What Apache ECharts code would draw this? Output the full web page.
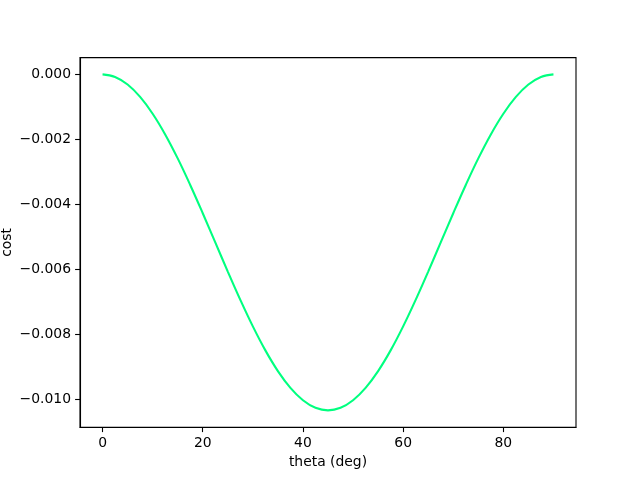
<!DOCTYPE html>
<html>
<head>
<meta charset="utf-8">
<script src="https://cdn.jsdelivr.net/npm/echarts@6/dist/echarts.min.js"></script>
<style>html,body{margin:0;padding:0;background:#fff}#c{width:640px;height:480px}</style>
</head>
<body>
<div id="c"></div>
<script>
// theta (deg) sample positions
const theta = [0,2.5,5,7.5,10,12.5,15,17.5,20,22.5,25,27.5,30,32.5,35,37.5,40,42.5,45,
  47.5,50,52.5,55,57.5,60,62.5,65,67.5,70,72.5,75,77.5,80,82.5,85,87.5,90];
// cost values
const cost = [0,-0.000079,-0.000312,-0.000693,-0.00121,-0.001847,-0.002585,-0.003402,-0.004272,-0.00517,
  -0.006068,-0.006938,-0.007755,-0.008493,-0.00913,-0.009647,-0.010028,-0.010261,-0.01034,
  -0.010261,-0.010028,-0.009647,-0.00913,-0.008493,-0.007755,-0.006938,-0.006068,-0.00517,
  -0.004272,-0.003402,-0.002585,-0.001847,-0.00121,-0.000693,-0.000312,-0.000079,0];
const xTicks = [0,20,40,60,80];
const yTicks = [0,-0.002,-0.004,-0.006,-0.008,-0.010];

const font = 'DejaVu Sans';
const chart = echarts.init(document.getElementById('c'), null, {renderer:'canvas'});
chart.setOption({
  animation:false,
  backgroundColor:'#fff',
  grid:{left:80,right:64,top:57.6,bottom:52.8,containLabel:false,outerBoundsMode:'none',
    show:true,borderColor:'#000',borderWidth:1.1,backgroundColor:'transparent'},
  xAxis:{
    type:'value',min:-4.5,max:94.5,
    name:'theta (deg)',nameLocation:'middle',nameGap:28,nameMoveOverlap:false,
    nameTextStyle:{fontFamily:font,fontSize:13.9,color:'#000'},
    axisLine:{show:true,onZero:false,lineStyle:{color:'#000',width:1.1}},
    axisTick:{show:true,length:4.9,customValues:xTicks,lineStyle:{color:'#000',width:1.1}},
    axisLabel:{customValues:xTicks,margin:9,fontFamily:font,fontSize:13.9,color:'#000'},
    splitLine:{show:false}
  },
  yAxis:{
    type:'value',min:-0.010857,max:0.000517,
    name:'cost',nameLocation:'middle',nameGap:66,nameRotate:90,nameMoveOverlap:false,
    nameTextStyle:{fontFamily:font,fontSize:13.9,color:'#000'},
    axisLine:{show:true,onZero:false,lineStyle:{color:'#000',width:1.1}},
    axisTick:{show:true,length:4.9,customValues:yTicks,lineStyle:{color:'#000',width:1.1}},
    axisLabel:{customValues:yTicks,margin:9,fontFamily:font,fontSize:13.9,color:'#000',
      formatter:v=>{const s=Math.abs(v).toFixed(3);return (v< -1e-9?'\u2212':'')+s;}},
    splitLine:{show:false}
  },
  series:[{
    type:'line',
    data:theta.map((t,i)=>[t,cost[i]]),
    smooth:0.4,
    showSymbol:false,
    lineStyle:{color:'#00ff7f',width:2.1},
    clip:true
  }]
});
</script>
</body>
</html>
